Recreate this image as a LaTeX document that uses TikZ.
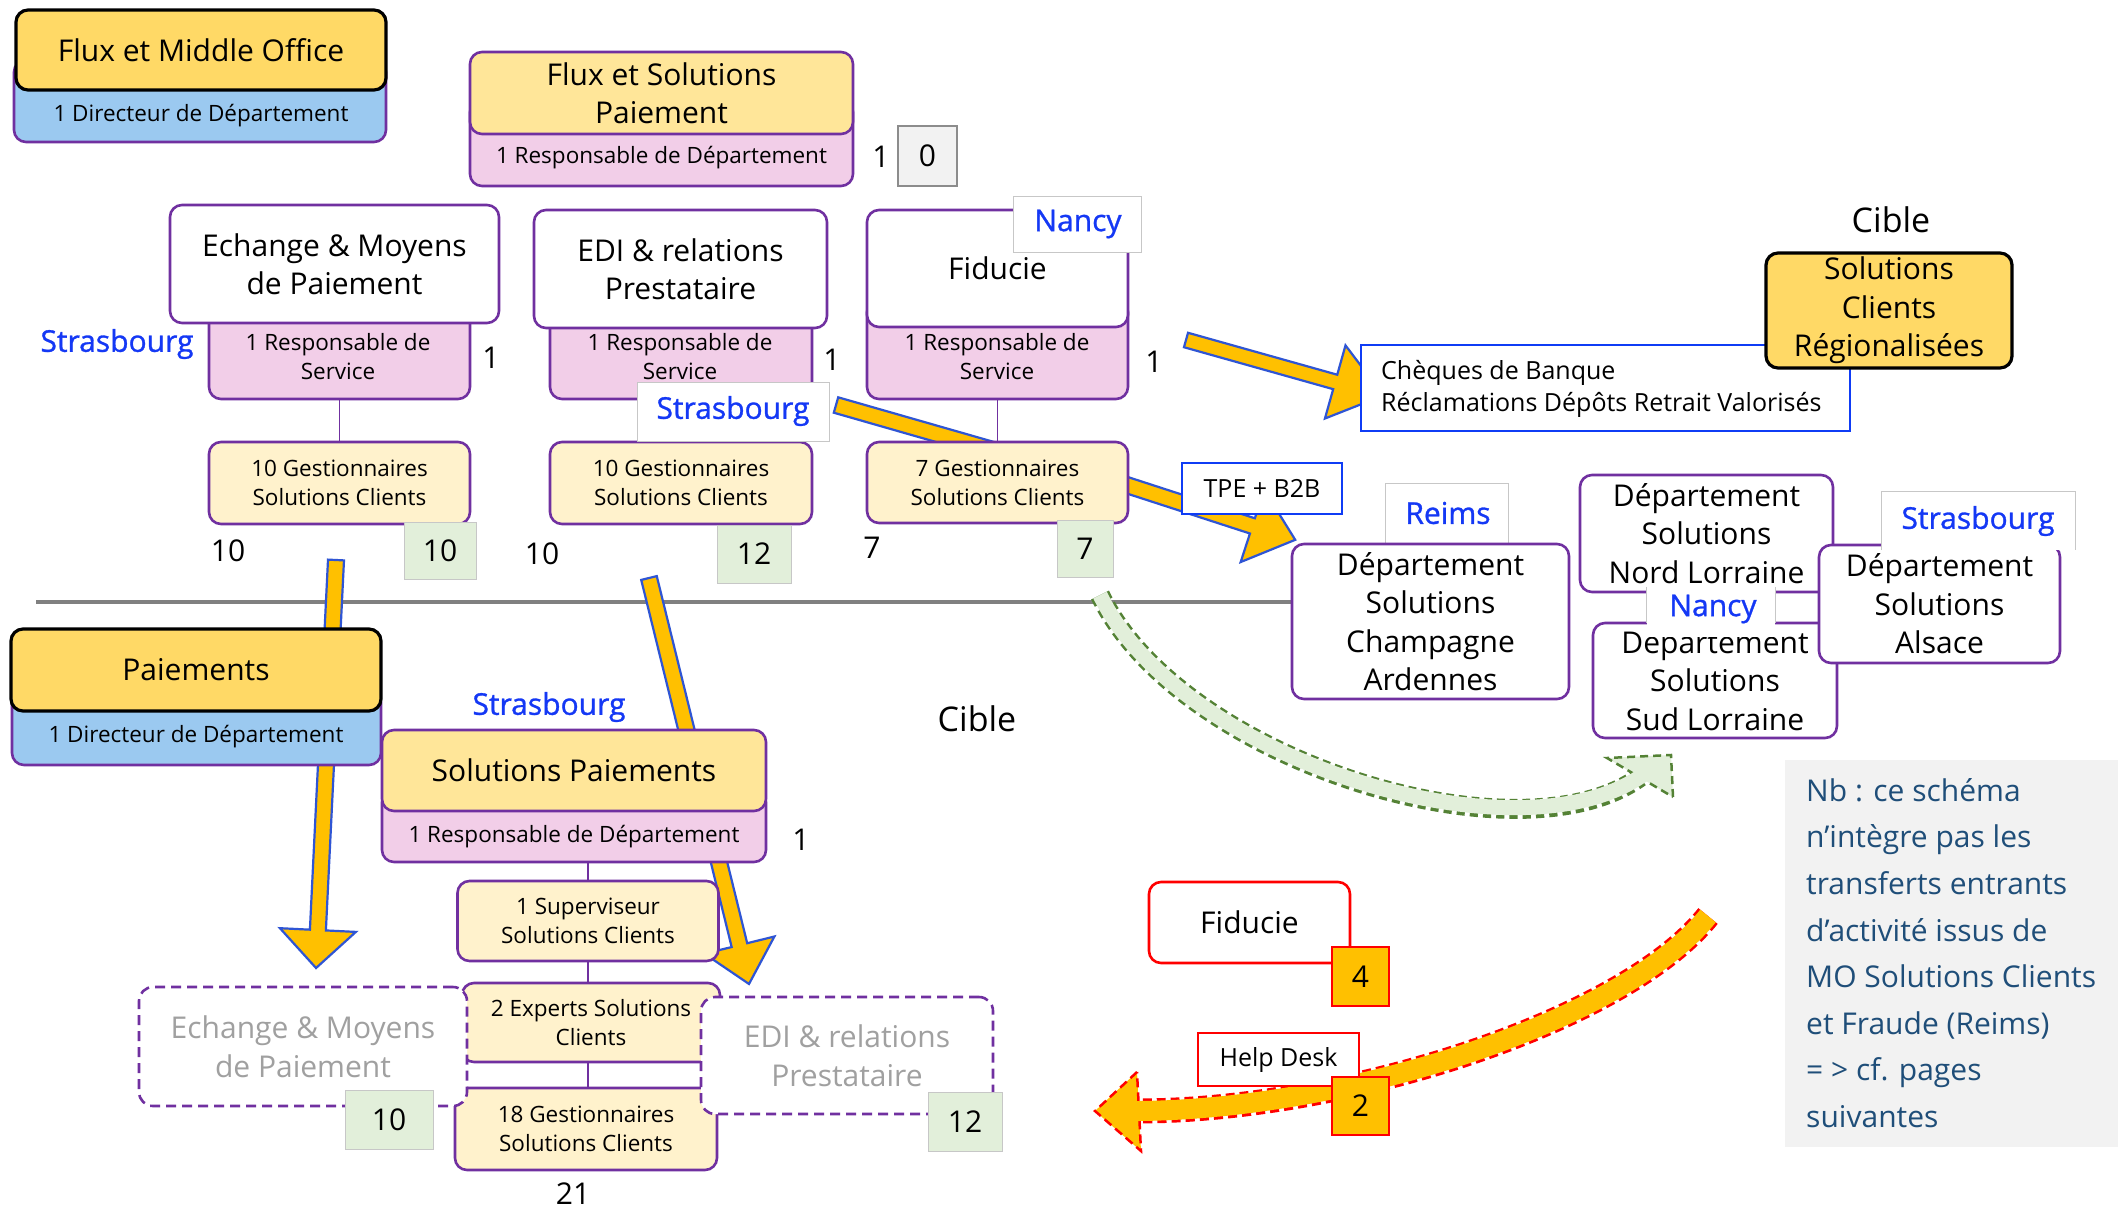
\documentclass[tikz,border=0pt]{standalone}
\usepackage{fontspec}
\setmainfont{Open Sans}
\newfontfamily\PlaceFont[FakeBold=1.0]{Open Sans}
\usetikzlibrary{calc}

\definecolor{purp}{HTML}{7030A0}
\definecolor{dyellow}{HTML}{FFD966}
\definecolor{lyellow}{HTML}{FFE699}
\definecolor{cream}{HTML}{FFF2CC}
\definecolor{pinkc}{HTML}{F2CEE8}
\definecolor{bluec}{HTML}{9BC9F0}
\definecolor{greenc}{HTML}{E2EFDA}
\definecolor{placeblue}{HTML}{1438F5}
\definecolor{lineblue}{HTML}{0F3CF5}
\definecolor{arrowyellow}{HTML}{FFC000}
\definecolor{arrowblue}{HTML}{2F55D4}
\definecolor{dkgreen}{HTML}{548235}
\definecolor{notebg}{HTML}{F2F2F2}
\definecolor{notetext}{HTML}{1F4E79}
\definecolor{greytext}{HTML}{A0A0A0}
\definecolor{sepgray}{HTML}{808080}

\newcommand\FsBig{\fontsize{30}{38.5}\selectfont}
\newcommand\FsSmall{\fontsize{22.5}{29}\selectfont}
\newcommand\FsMid{\fontsize{25}{32}\selectfont}
\newcommand\FsCible{\fontsize{34}{40}\selectfont}
\newcommand\FsNote{\fontsize{30}{46.6}\selectfont}

% straight block arrow: style, start, angle, length, shaft width, head width, head length
\newcommand\blockarrow[7]{%
  \begin{scope}[shift={(#2)}, rotate=#3]
    \draw[#1] (0pt,#5pt/2) -- (#4pt-#7pt,#5pt/2) -- (#4pt-#7pt,#6pt/2) -- (#4pt,0pt)
      -- (#4pt-#7pt,-#6pt/2) -- (#4pt-#7pt,-#5pt/2) -- (0pt,-#5pt/2) -- cycle;
  \end{scope}}

\tikzset{
  box/.style={draw=purp, line width=2.6pt, rounded corners=12pt, inner sep=0pt, align=center},
  wbox/.style={box, fill=white},
  pbox/.style={box, fill=pinkc},
  cbox/.style={box, fill=cream, font=\FsSmall},
  lybox/.style={box, fill=lyellow, font=\FsBig},
  bluebox/.style={box, fill=bluec},
  dybox/.style={draw=black, line width=3.2pt, rounded corners=12pt, fill=dyellow, inner sep=0pt, align=center, font=\FsBig},
  gbox/.style={draw=black!22, line width=1pt, fill=greenc, inner sep=0pt, font=\FsBig},
  zbox/.style={draw=black!45, line width=1.5pt, fill=notebg, inner sep=0pt, font=\FsBig},
  tag/.style={fill=white, draw=black!22, line width=1pt, inner sep=0pt},
  tagline/.style={draw=black!22, line width=1pt},
  place/.style={text=placeblue, font=\PlaceFont\FsBig, inner sep=0pt},
  txt/.style={inner sep=0pt, align=center},
  num/.style={inner sep=0pt, font=\FsBig},
  link/.style={draw=purp, line width=1.3pt},
  dbox/.style={draw=purp, line width=2.6pt, dash pattern=on 10pt off 6pt, rounded corners=14pt, fill=white, inner sep=0pt, align=center, font=\FsBig, text=greytext},
  bluerect/.style={draw=lineblue, line width=2.6pt, fill=white, inner sep=0pt},
  rbox/.style={draw=red, line width=2.6pt, rounded corners=12pt, fill=white, inner sep=0pt, font=\FsBig},
  rrect/.style={draw=red, line width=2.6pt, fill=white, inner sep=0pt, font=\FsMid},
  obox/.style={draw=red, line width=2.6pt, fill=arrowyellow, inner sep=0pt, font=\FsBig},
  yarrow/.style={fill=arrowyellow, draw=arrowblue, line width=2.2pt, line join=miter},
}

\begin{document}
\begin{tikzpicture}[x=1pt,y=-1pt]
\useasboundingbox (0,0) rectangle (2118,1211);
\fill[white] (0,0) rectangle (2118,1211);

% separator between current and target organisation
\coordinate (sepL) at (36,602);
\coordinate (sepR) at (1293,602);
\draw[sepgray, line width=4pt] (sepL) -- (sepR);

% wide yellow arrows (drawn first, boxes cover their ends)
\coordinate (arrA) at (336,560);
\coordinate (arrB) at (649,578);
\coordinate (arrC) at (836,405);
\coordinate (arr1) at (1186,340);
\coordinate (arrD) at (1105,478);
\blockarrow{yarrow}{arrA}{-92.8}{408.5}{16}{76}{38}
\blockarrow{yarrow}{arrB}{-76.16}{418.1}{16}{72}{40}
\blockarrow{yarrow}{arrC}{-16}{175}{16}{16}{1}
\blockarrow{yarrow}{arr1}{-15.7}{205}{15}{76}{50}
\blockarrow{yarrow}{arrD}{-18}{200}{16}{76}{45}

% green dashed curved arrow
\coordinate (g0) at (1100,595);
\coordinate (g1) at (1180,760);
\coordinate (g2) at (1518,865);
\coordinate (g3) at (1640,777);
\coordinate (gtip) at (1671,755);
\coordinate (gb1) at (1673,797);
\coordinate (gb2) at (1607,758);
\draw[dkgreen, line width=20pt, dash pattern=on 8pt off 5pt] (g0) .. controls (g1) and (g2) .. (g3);
\filldraw[fill=greenc, draw=dkgreen, line width=2.5pt, dash pattern=on 8pt off 5pt] (gb1) -- (gtip) -- (gb2) -- cycle;
\draw[greenc, line width=15pt, shorten >=-5pt] (g0) .. controls (g1) and (g2) .. (g3);

% ---------- current organisation ----------
\node[bluebox, minimum width=372, minimum height=82] (fmodir) at (200,101) {};
\node[txt, font=\FsSmall] (fmodirt) at (201,116) {1 Directeur de Département};
\node[dybox, minimum width=370, minimum height=80] (fmo) at (201,50) {Flux et Middle Office};

\node[pbox, minimum width=383, minimum height=86] (fspresp) at (661.5,143) {};
\node[txt, font=\FsSmall] (fsprespt) at (661.5,158) {1 Responsable de Département};
\node[lybox, minimum width=383, minimum height=82] (fsp) at (661.5,93) {Flux et Solutions\\Paiement};
\node[num] (nfsp) at (881,157) {1};
\node[zbox, minimum width=59, minimum height=60] (zero) at (927.5,156) {0};

% Echange & Moyens de Paiement
\node[pbox, minimum width=261, minimum height=109] (echresp) at (339.5,344.5) {};
\node[wbox, minimum width=329, minimum height=118, font=\FsBig] (ech) at (334.5,264) {Echange \& Moyens\\de Paiement};
\node[txt, font=\FsSmall] (echrespt) at (338,357) {1 Responsable de\\Service};
\node[cbox, minimum width=261, minimum height=82] (echgest) at (339.5,483) {10 Gestionnaires\\Solutions Clients};
\draw[link] (echresp.south) -- (echgest.north);
\node[num] (nech1) at (491,358) {1};
\node[place] (strasA) at (117,344) {Strasbourg};
\node[num] (nech10) at (228,551) {10};
\node[gbox, minimum width=72, minimum height=57] (gech) at (440,550.5) {10};

% EDI & relations Prestataire
\node[pbox, minimum width=262, minimum height=99] (ediresp) at (681,349.5) {};
\node[wbox, minimum width=293, minimum height=118, font=\FsBig] (edi) at (680.5,269) {EDI \& relations\\Prestataire};
\node[txt, font=\FsSmall] (edirespt) at (680,357) {1 Responsable de\\Service};
\node[cbox, minimum width=262, minimum height=82] (edigest) at (681,483) {10 Gestionnaires\\Solutions Clients};
\draw[link] (ediresp.south) -- (edigest.north);
\node[num] (nedi1) at (832,360) {1};
\node[num] (nedi10) at (542,554) {10};
\node[gbox, minimum width=74, minimum height=58] (gedi) at (754,554) {12};
\node[tag, minimum width=192, minimum height=59] (strasB) at (733,411.5) {};
\node[place] (strasBt) at (733,411) {Strasbourg};

% Fiducie
\node[pbox, minimum width=261, minimum height=99] (fidresp) at (997.5,349.5) {};
\node[wbox, minimum width=261, minimum height=117, font=\FsBig] (fid) at (997.5,268.5) {Fiducie};
\node[txt, font=\FsSmall] (fidrespt) at (997,357) {1 Responsable de\\Service};
\node[cbox, minimum width=261, minimum height=81] (fidgest) at (997.5,482.5) {7 Gestionnaires\\Solutions Clients};
\draw[link] (fidresp.south) -- (fidgest.north);
\node[num] (nfid1) at (1154,362) {1};
\node[num] (nfid7) at (872,548) {7};
\node[gbox, minimum width=56, minimum height=57] (gfid) at (1085,548.5) {7};
\node[tag, minimum width=128, minimum height=56] (nancyA) at (1077,224) {};
\node[place] (nancyAt) at (1078,224) {Nancy};

% ---------- target: regional client solutions ----------
\node[bluerect, minimum width=160, minimum height=51, font=\FsMid] (tpe) at (1262,488.5) {TPE + B2B};
\node[bluerect, minimum width=489, minimum height=86] (cheq) at (1605.5,388) {};
\node[txt, anchor=west, align=left, font=\FsMid] (cheqt) at (1381,389) {Chèques de Banque\\Réclamations Dépôts Retrait Valorisés};
\node[txt, font=\FsCible] (cibleA) at (1891,220) {Cible};
\node[dybox, minimum width=246, minimum height=115] (scr) at (1889,310.5) {Solutions\\Clients\\Régionalisées};

\node[tag, minimum width=123, minimum height=61] (reimsl) at (1446.5,513.5) {};
\node[place] (reimslt) at (1448,513) {Reims};
\node[wbox, minimum width=277, minimum height=155, font=\FsBig] (reims) at (1430.5,621.5) {Département\\Solutions\\Champagne\\Ardennes};

\node[wbox, minimum width=253, minimum height=117, font=\FsBig] (nord) at (1706.5,533.5) {Département\\Solutions\\Nord Lorraine};
\node[wbox, minimum width=244, minimum height=115, font=\FsBig] (sud) at (1715,680.5) {Département\\Solutions\\Sud Lorraine};
\node[fill=white, inner sep=0pt, minimum width=128, minimum height=50] (nancyB) at (1711,612) {};
\draw[tagline] (nancyB.north west) -- ++(0,36);
\draw[tagline] (nancyB.north east) -- ++(0,36);
\node[place] (nancyBt) at (1713,609) {Nancy};

\node[wbox, minimum width=241, minimum height=118, font=\FsBig] (als) at (1939.5,604) {Département\\Solutions\\Alsace};
\node[fill=white, inner sep=0pt, minimum width=193, minimum height=58] (strasC) at (1978.5,521) {};
\draw[tagline] (strasC.south west) |- (strasC.north east) -- (strasC.south east);
\node[place] (strasCt) at (1978,521) {Strasbourg};

% ---------- target: payments ----------
\node[bluebox, minimum width=369, minimum height=75] (paydir) at (196.5,727.5) {};
\node[txt, font=\FsSmall] (paydirt) at (196,737) {1 Directeur de Département};
\node[dybox, minimum width=370, minimum height=82] (pay) at (196,670) {Paiements};

\node[place] (strasD) at (549,707) {Strasbourg};
\node[txt, font=\FsCible] (cibleB) at (977,719) {Cible};

\node[pbox, minimum width=384, minimum height=72] (spresp) at (574,826) {};
\node[txt, font=\FsSmall] (sprespt) at (574,837) {1 Responsable de Département};
\node[lybox, minimum width=384, minimum height=81] (sp) at (574,770.5) {Solutions Paiements};
\node[num] (nsp) at (801,840) {1};

\node[cbox, minimum width=261, minimum height=80] (sup) at (588,921) {1 Superviseur\\Solutions Clients};
\node[cbox, minimum width=258, minimum height=79] (exp) at (591,1022.5) {2 Experts Solutions\\Clients};
\node[cbox, minimum width=262, minimum height=82] (g18) at (586,1129) {18 Gestionnaires\\Solutions Clients};
\draw[link] (sup.north |- spresp.south) -- (sup.north);
\draw[link] (sup.south) -- (sup.south |- exp.north);
\draw[link] (sup.south |- exp.south) -- (sup.south |- g18.north);
\node[num] (n21) at (573,1194) {21};

\node[dbox, minimum width=328, minimum height=119] (ech2) at (303,1046.5) {Echange \& Moyens\\de Paiement};
\node[gbox, minimum width=88, minimum height=59] (gech2) at (389,1119.5) {10};
\node[dbox, minimum width=292, minimum height=117] (edi2) at (847,1055.5) {EDI \& relations\\Prestataire};
\node[gbox, minimum width=74, minimum height=59] (gedi2) at (965,1121.5) {12};

% ---------- outgoing activities ----------
\coordinate (y0) at (1708,916);
\coordinate (y1) at (1625,1020);
\coordinate (y2) at (1350,1110);
\coordinate (y3) at (1140,1111);
\coordinate (ytip) at (1095,1111);
\coordinate (yb1) at (1137,1072);
\coordinate (yb2) at (1141,1151);
\draw[red, line width=25pt, dash pattern=on 9pt off 5pt] (y0) .. controls (y1) and (y2) .. (y3);
\filldraw[fill=arrowyellow, draw=red, line width=2.5pt, dash pattern=on 9pt off 5pt] (yb1) -- (ytip) -- (yb2) -- cycle;
\draw[arrowyellow, line width=20pt, shorten >=-5pt] (y0) .. controls (y1) and (y2) .. (y3);

\node[rbox, minimum width=201, minimum height=81] (fid2) at (1249.5,922.5) {Fiducie};
\node[obox, minimum width=57, minimum height=59] (four) at (1360.5,976.5) {4};
\node[rrect, minimum width=161, minimum height=53] (help) at (1278.5,1059.5) {Help Desk};
\node[obox, minimum width=57, minimum height=58] (two) at (1360.5,1106) {2};

% note
\node[fill=notebg, inner sep=0pt, minimum width=333, minimum height=387, anchor=north west] (note) at (1785,760) {};
\node[txt, anchor=west, align=left, font=\FsNote, text=notetext] (notet) at (1806,953) {Nb : ce schéma\\n’intègre pas les\\transferts entrants\\d’activité issus de\\MO Solutions Clients\\et Fraude (Reims)\\= > cf. pages\\suivantes};
\end{tikzpicture}
\end{document}
